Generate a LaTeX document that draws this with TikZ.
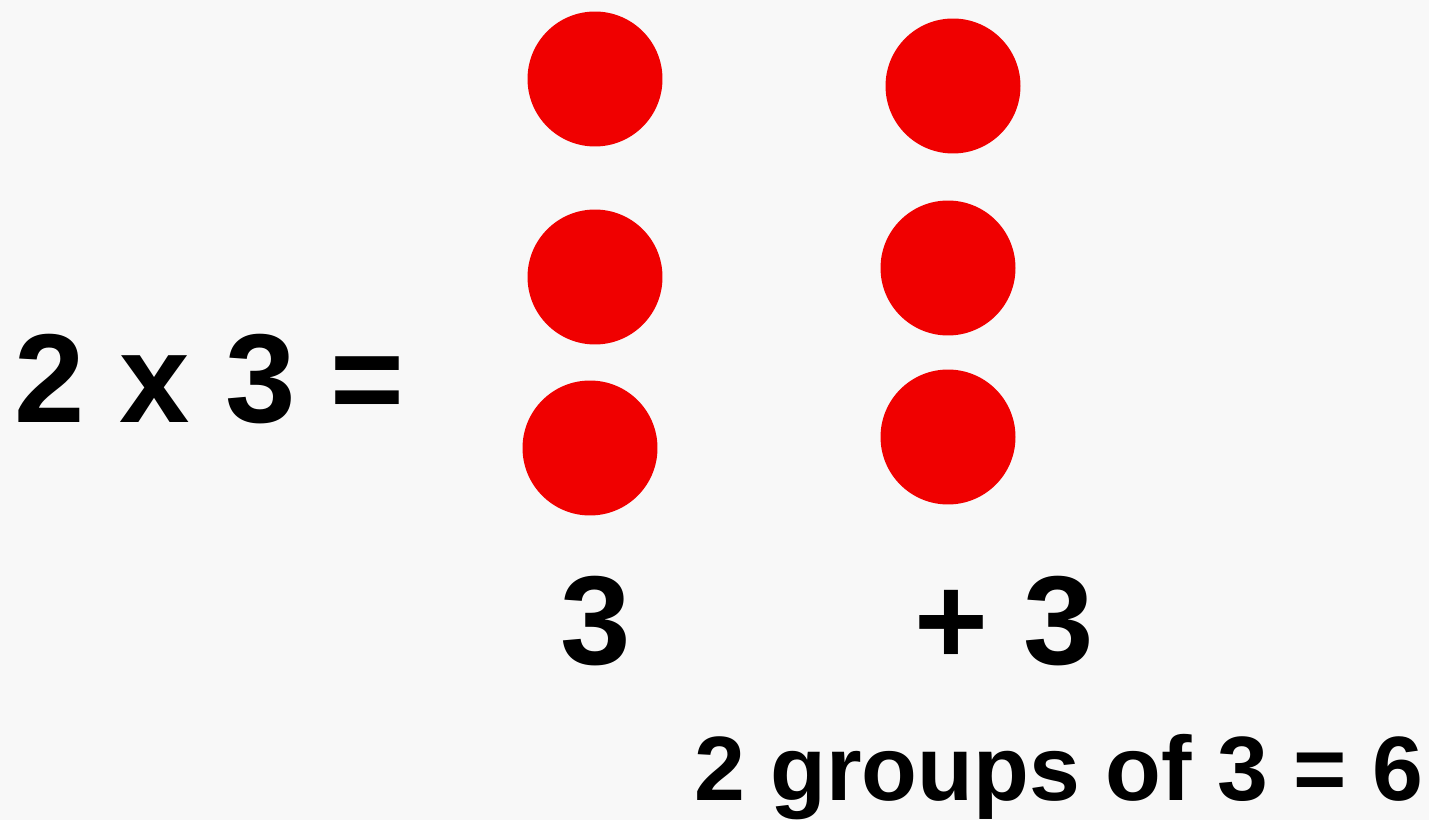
\documentclass[tikz,border=0pt]{standalone}
\usepackage{fontspec}
\setmainfont{Liberation Sans}
\usepackage{xcolor}
\definecolor{dotred}{RGB}{240,0,0}
\definecolor{paper}{RGB}{248,248,248}

\tikzset{
  dot/.style={circle, fill=dotred, draw=none, minimum size=2.7cm, inner sep=0pt},
  bigtxt/.style={anchor=base west, inner sep=0pt, font=\bfseries\fontsize{72}{80}\selectfont},
  smalltxt/.style={anchor=base west, inner sep=0pt, font=\bfseries\fontsize{52}{60}\selectfont}
}

\begin{document}
\begin{tikzpicture}[x=0.02cm, y=-0.02cm]
\fill[paper] (0,0) rectangle (1429,820);
\useasboundingbox (0,0) rectangle (1429,820);
% Equation
\node[bigtxt] (eq) at (14,422) {2 x 3 =};
% First group
\node[dot] (l1) at (595,79) {};
\node[dot] (l2) at (595,277) {};
\node[dot] (l3) at (590,448) {};
% Second group
\node[dot] (r1) at (953,86) {};
\node[dot] (r2) at (948,268) {};
\node[dot] (r3) at (948,437) {};
% Group labels
\node[bigtxt] (lsum) at (560,664) {3};
\node[bigtxt] (rsum) at (914,664) {+ 3};
\node[smalltxt] (total) at (694,800) {2 groups of 3 = 6};
\end{tikzpicture}
\end{document}
